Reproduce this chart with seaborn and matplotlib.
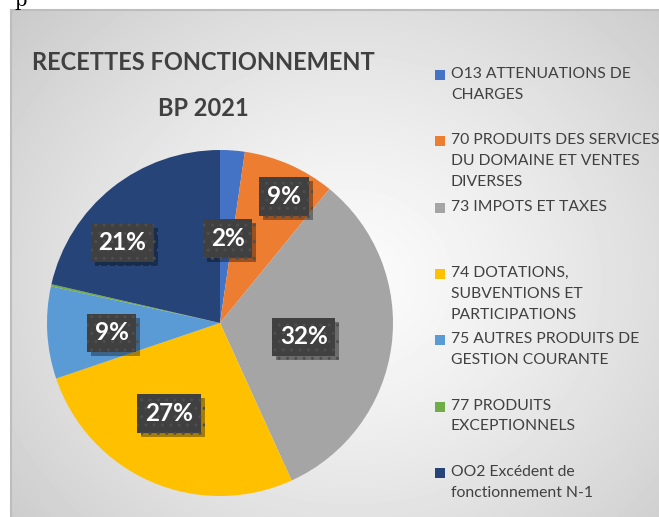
import numpy as np
import matplotlib
matplotlib.use("Agg")
import matplotlib.pyplot as plt
import matplotlib.patheffects as pe
from matplotlib import font_manager
from matplotlib.patches import Rectangle
import seaborn as sns

# data (share of total, %)
categories = [
    "O13 ATTENUATIONS DE\nCHARGES",
    "70 PRODUITS DES SERVICES\nDU DOMAINE ET VENTES\nDIVERSES",
    "73 IMPOTS ET TAXES",
    "74 DOTATIONS,\nSUBVENTIONS ET\nPARTICIPATIONS",
    "75 AUTRES PRODUITS DE\nGESTION COURANTE",
    "77 PRODUITS\nEXCEPTIONNELS",
    "OO2 Excédent de\nfonctionnement N-1",
]
shares = [2.3, 8.6, 32.3, 26.6, 8.6, 0.2, 21.4]
title_lines = ["RECETTES FONCTIONNEMENT", "BP 2021"]

colors = ["#4472C4", "#ED7D31", "#A5A5A5", "#FFC000", "#5B9BD5", "#70AD47", "#264478"]
# label placement (radius fraction, angular nudge in degrees)
label_r = [0.49, 0.82, 0.49, 0.60, 0.63, 0.0, 0.73]
label_nudge = [-1, -3, -2, -6, 2, 0, 12]

sns.set_theme(style="white")
plt.rcParams["font.family"] = ["Lato", "DejaVu Sans"]

# narrow face for the title if there is one, Calibri is narrower than Lato
names = {f.name for f in font_manager.fontManager.ttflist}
if "Liberation Sans Narrow" in names:
    title_font, title_size = ["Liberation Sans Narrow", "DejaVu Sans"], 21
else:
    title_font, title_size = ["Lato", "DejaVu Sans"], 17

W, H = 659, 517
fig = plt.figure(figsize=(W / 100, H / 100), dpi=100)
fig.patch.set_facecolor("white")

# background with radial gradient
bg = fig.add_axes([11 / W, 0, (W - 11) / W, (H - 10) / H])
yy, xx = np.mgrid[10:H, 11:W]
d = np.sqrt(((xx - 350) / 470.0) ** 2 + ((yy - 280) / 420.0) ** 2)
d = np.clip(d, 0, 1)
lo, hi = 0.78, 0.985
img = hi - (hi - lo) * d ** 1.3
bg.imshow(img, cmap="gray", vmin=0, vmax=1, aspect="auto", extent=[0, 1, 0, 1])
bg.set_xlim(0, 1)
bg.set_ylim(0, 1)
bg.set_xticks([])
bg.set_yticks([])
for s in bg.spines.values():
    s.set_visible(False)
for side in ["left", "top"]:
    bg.spines[side].set_visible(True)
    bg.spines[side].set_color("#BDBDBD")
    bg.spines[side].set_linewidth(1.5)

# pie
cx, cy, r = 220, 323, 173
ax = fig.add_axes([(cx - r) / W, (H - cy - r) / H, 2 * r / W, 2 * r / H])
wedges, _ = ax.pie(shares, colors=colors, startangle=90, counterclock=False,
                   radius=1, wedgeprops=dict(linewidth=0))
ax.set_xlim(-1, 1)
ax.set_ylim(-1, 1)
ax.set_aspect("equal")
ax.axis("off")

total = sum(shares)
for w, v, lr, nd in zip(wedges, shares, label_r, label_nudge):
    pct = round(v / total * 100)
    if pct == 0:
        continue
    ang = np.deg2rad((w.theta1 + w.theta2) / 2 + nd)
    t = ax.text(lr * np.cos(ang), lr * np.sin(ang), f"{pct}%", ha="center", va="center",
                color="white", fontsize=17.5, fontweight="bold",
                bbox=dict(boxstyle="square,pad=0.32", fc="#404040", ec="#4E4E4E",
                          lw=0, hatch=".."))
    t.get_bbox_patch().set_path_effects([
        pe.SimplePatchShadow(offset=(3, -3), shadow_rgbFace="black", alpha=0.35),
        pe.Normal()])

# title
fig.text(203 / W, 1 - 62 / H, title_lines[0], ha="center", va="center",
         fontsize=title_size, fontweight="bold", color="#404040", family=title_font)
fig.text(203 / W, 1 - 108 / H, title_lines[1], ha="center", va="center",
         fontsize=title_size, fontweight="bold", color="#404040", family=title_font)

# legend (fixed slots like the original)
ov = fig.add_axes([0, 0, 1, 1], facecolor="none")
ov.set_xlim(0, W)
ov.set_ylim(H, 0)
ov.axis("off")
y0, step = 75.5, 66.3
for i, (lab, c) in enumerate(zip(categories, colors)):
    y = y0 + i * step
    ov.add_patch(Rectangle((435, y - 5.5), 10, 10, color=c, lw=0))
    ov.text(451, y - 8.5, lab, ha="left", va="top", fontsize=11.3,
            color="#404040", linespacing=1.62)

# fragment of document text above the chart
fig.text(14 / W, 1 - 1 / H, "p", ha="left", va="center", fontsize=14,
         family="DejaVu Serif", color="black")

plt.savefig("out.png", dpi=100)
plt.close()
